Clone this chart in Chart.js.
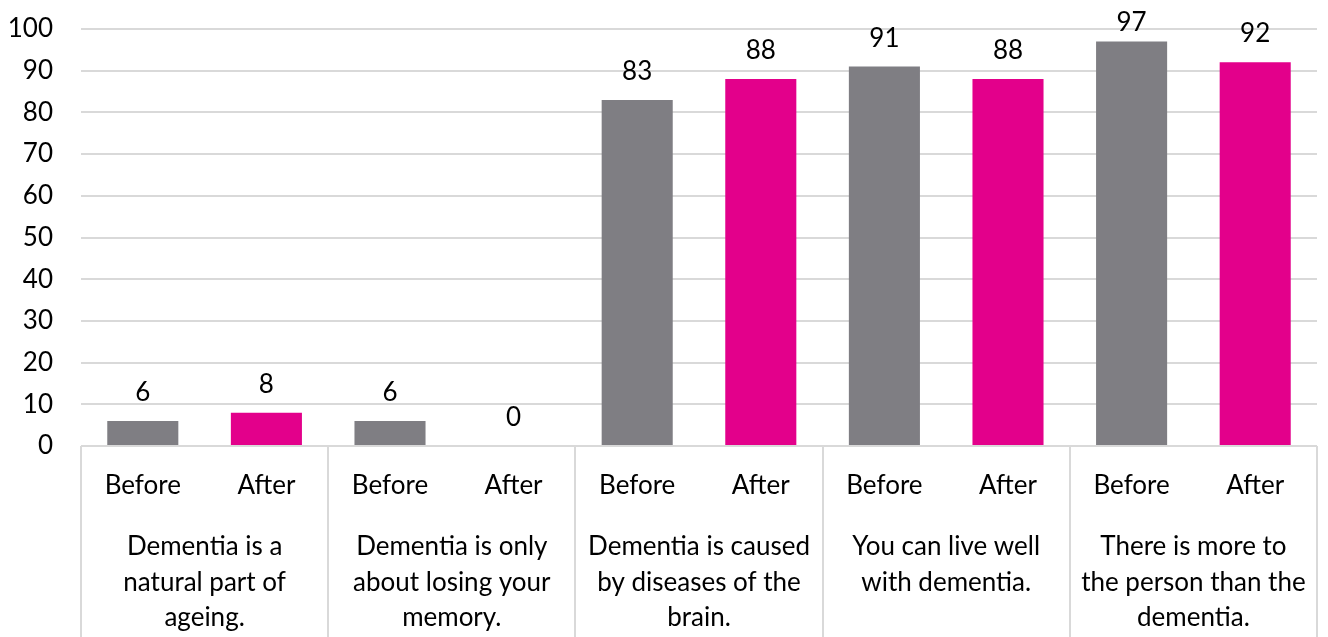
<!DOCTYPE html>
<html>
<head>
<meta charset="utf-8">
<script src="https://cdn.jsdelivr.net/npm/chart.js@4/dist/chart.umd.min.js"></script>
<style>
  html, body { margin: 0; padding: 0; background: #ffffff; }
  #wrap { width: 1328px; height: 637px; position: relative; }
</style>
</head>
<body>
<div id="wrap"><canvas id="chart"></canvas></div>
<script>
// Statements, each split into the lines shown under its pair of bars
const statements = [
  ["Dementia is a", "natural part of", "ageing."],
  ["Dementia is only", "about losing your", "memory."],
  ["Dementia is caused", "by diseases of the", "brain."],
  ["You can live well", "with dementia."],
  ["There is more to", "the person than the", "dementia."]
];
const phases = ["Before", "After"];
const beforeValues = [6, 6, 83, 91, 97];
const afterValues = [8, 0, 88, 88, 92];
const yMin = 0, yMax = 100, yStep = 10;

const GREY = "#7f7e83";
const MAGENTA = "#e3008b";
const GRID = "#d9d9d9";
const FONT = "Lato, 'Open Sans', sans-serif";
const FONT_SIZE = 26;

// Interleave the two series: Before, After for every statement
const labels = [];
const values = [];
const colors = [];
statements.forEach((s, i) => {
  labels.push(phases[0]); values.push(beforeValues[i]); colors.push(GREY);
  labels.push(phases[1]); values.push(afterValues[i]); colors.push(MAGENTA);
});

// Value labels above each bar
const valueLabels = {
  id: "valueLabels",
  afterDatasetsDraw(chart) {
    const ctx = chart.ctx;
    const meta = chart.getDatasetMeta(0);
    ctx.save();
    ctx.font = FONT_SIZE + "px " + FONT;
    ctx.fillStyle = "#000";
    ctx.textAlign = "center";
    ctx.textBaseline = "alphabetic";
    meta.data.forEach((bar, i) => {
      let y = bar.y - 20;
      if (y - 18 < 12) y = 31;
      ctx.fillText(String(values[i]), bar.x, y);
    });
    ctx.restore();
  }
};

// Statement labels and the dividers between the statement groups
const groupAxis = {
  id: "groupAxis",
  afterDraw(chart) {
    const ctx = chart.ctx;
    const x = chart.scales.x;
    const top = chart.chartArea.bottom;
    const bottom = chart.height;
    ctx.save();
    ctx.strokeStyle = GRID;
    ctx.lineWidth = 2;
    for (let g = 0; g <= statements.length; g++) {
      const px = Math.round(x.getPixelForValue(2 * g - 0.5));
      ctx.beginPath();
      ctx.moveTo(px, top);
      ctx.lineTo(px, bottom);
      ctx.stroke();
    }
    ctx.font = FONT_SIZE + "px " + FONT;
    ctx.fillStyle = "#000";
    ctx.textAlign = "center";
    ctx.textBaseline = "middle";
    statements.forEach((lines, g) => {
      const cx = x.getPixelForValue(2 * g + 0.5);
      lines.forEach((line, k) => {
        ctx.fillText(line, cx, 547 + k * 35.5);
      });
    });
    ctx.restore();
  }
};

new Chart(document.getElementById("chart"), {
  type: "bar",
  data: {
    labels: labels,
    datasets: [{
      data: values,
      backgroundColor: colors,
      borderWidth: 0,
      categoryPercentage: 1,
      barPercentage: 0.575
    }]
  },
  options: {
    responsive: true,
    maintainAspectRatio: false,
    animation: false,
    layout: { padding: { top: 29, right: 11, left: 0, bottom: 0 } },
    plugins: { legend: { display: false }, tooltip: { enabled: false } },
    scales: {
      x: {
        grid: { display: false, drawTicks: false },
        border: { display: false },
        ticks: {
          color: "#000",
          font: { family: FONT, size: FONT_SIZE },
          padding: 24,
          maxRotation: 0,
          autoSkip: false
        },
        afterFit(scale) { scale.height = 191; }
      },
      y: {
        min: yMin,
        max: yMax,
        grid: { color: GRID, lineWidth: 2, drawTicks: false },
        border: { display: false },
        ticks: {
          stepSize: yStep,
          color: "#000",
          font: { family: FONT, size: FONT_SIZE },
          padding: 28
        },
        afterFit(scale) {
          scale.width = 81;
          scale.paddingTop = 0;
          scale.paddingBottom = 0;
        }
      }
    }
  },
  plugins: [valueLabels, groupAxis]
});
</script>
</body>
</html>
